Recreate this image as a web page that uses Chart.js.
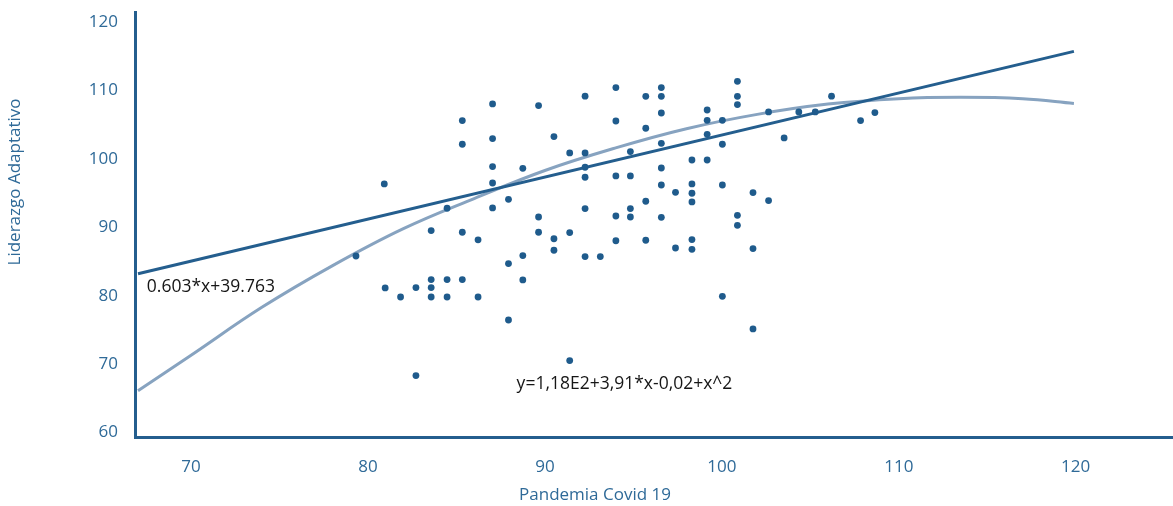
<!DOCTYPE html>
<html>
<head>
<meta charset="utf-8">
<title>Liderazgo Adaptativo vs Pandemia Covid 19</title>
<script src="https://cdn.jsdelivr.net/npm/chart.js@4"></script>
<style>
  html, body { margin: 0; padding: 0; background: #ffffff; }
  #wrap { width: 1173px; height: 506px; position: relative; }
</style>
</head>
<body>
<div id="wrap"><canvas id="scatterChart"></canvas></div>
<script>
// Observed points (Pandemia Covid 19 vs Liderazgo Adaptativo)
const covidX = [
  87.04, 89.64, 85.33, 87.04, 90.51, 85.33, 91.40, 87.04, 88.75, 80.92,
  87.04, 87.94, 87.04, 84.47, 89.64, 83.57, 85.33, 86.22, 89.64, 90.51,
  91.40, 90.51, 79.32, 87.94, 88.75, 83.57, 84.47, 85.33, 80.97, 82.71,
  83.57, 81.84, 83.57, 84.47, 86.22, 88.75, 87.94, 82.71, 91.40, 92.27,
  94.01, 95.70, 96.58, 96.58, 100.88, 100.88, 100.88, 94.01, 95.70, 96.58,
  99.17, 99.17, 100.03, 102.64, 99.17, 96.58, 103.52, 100.03, 92.27, 94.83,
  92.27, 92.27, 94.01, 94.83, 98.31, 99.17, 96.58, 96.58, 97.38, 98.31,
  98.31, 98.31, 100.03, 101.76, 102.64, 92.27, 95.70, 94.83, 94.83, 94.01,
  96.58, 100.88, 100.88, 92.27, 93.13, 94.01, 95.70, 97.38, 98.31, 98.31,
  101.76, 100.03, 101.76, 104.35, 105.28, 106.20, 107.84, 108.65
];
const liderazgoY = [
  108.02, 107.78, 105.59, 102.96, 103.25, 102.13, 100.86, 98.87, 98.62, 96.33,
  96.47, 94.09, 92.82, 92.78, 91.50, 89.52, 89.27, 88.17, 89.27, 88.32,
  89.22, 86.64, 85.80, 84.69, 85.86, 82.36, 82.36, 82.36, 81.13, 81.19,
  81.19, 79.81, 79.81, 79.81, 79.81, 82.30, 76.45, 68.33, 70.52, 109.16,
  110.41, 109.14, 110.41, 109.14, 111.33, 109.14, 107.93, 105.53, 104.47, 106.70,
  107.14, 105.63, 105.63, 106.85, 103.59, 102.27, 103.05, 102.13, 100.86, 101.06,
  98.77, 97.31, 97.50, 97.50, 99.83, 99.83, 98.66, 96.18, 95.11, 96.33,
  94.97, 93.70, 96.18, 95.07, 93.90, 92.73, 93.80, 92.73, 91.50, 91.65,
  91.46, 91.75, 90.29, 85.72, 85.72, 88.03, 88.10, 86.97, 88.20, 86.78,
  86.89, 79.91, 75.14, 106.85, 106.85, 109.16, 105.59, 106.76
];

// Linear trend line, end points as drawn
const linearX = [67.0, 119.9];
const linearY = [83.2, 115.7];

// Quadratic trend curve
const curveX = [67.0, 70, 74, 78, 82, 86, 90, 94, 98, 102, 106, 110, 113.5, 117, 119.9];
const curveY = [66.1, 71.3, 78.3, 84.4, 89.8, 94.2, 98.3, 101.6, 104.4, 106.5, 108.0, 108.8, 109.0, 108.8, 108.1];

// Axis ticks
const xTicks = [70, 80, 90, 100, 110, 120];
const yTicks = [60, 70, 80, 90, 100, 110, 120];

// Equation labels
const linearLabel = '0.603*x+39.763';
const curveLabel = 'y=1,18E2+3,91*x-0,02+x^2';

const BLUE = '#245e8e';
const DOT = '#1f5b8c';
const LIGHT = '#87a3c0';
const TEXT = '#2f6a98';
const FONT = "'Open Sans', sans-serif";

function toPoints(xs, ys) {
  return xs.map((x, i) => ({ x: x, y: ys[i] }));
}

// Draws the equation texts and the axis titles
const labelPlugin = {
  id: 'labelPlugin',
  afterDraw(chart) {
    const ctx = chart.ctx;
    const xs = chart.scales.x;
    const ys = chart.scales.y;
    ctx.save();
    ctx.fillStyle = '#161616';
    ctx.font = '17.5px ' + FONT;
    ctx.textAlign = 'left';
    ctx.textBaseline = 'middle';
    ctx.fillText(linearLabel, xs.getPixelForValue(67.5), ys.getPixelForValue(81.2));
    ctx.fillText(curveLabel, xs.getPixelForValue(88.4), ys.getPixelForValue(67.05));

    // axis titles
    ctx.fillStyle = TEXT;
    ctx.font = '17px ' + FONT;
    ctx.textAlign = 'center';
    ctx.fillText('Pandemia Covid 19', 595, 495);
    ctx.translate(15, 182);
    ctx.rotate(-Math.PI / 2);
    ctx.fillText('Liderazgo Adaptativo', 0, 0);
    ctx.restore();
  }
};

const ctx = document.getElementById('scatterChart').getContext('2d');
new Chart(ctx, {
  type: 'scatter',
  data: {
    datasets: [
      {
        label: 'Datos',
        data: toPoints(covidX, liderazgoY),
        backgroundColor: DOT,
        borderWidth: 0,
        pointRadius: 3.4,
        order: 0
      },
      {
        label: 'Lineal',
        data: toPoints(linearX, linearY),
        showLine: true,
        borderColor: BLUE,
        borderWidth: 3,
        pointRadius: 0,
        order: 1
      },
      {
        label: 'Cuadratica',
        data: toPoints(curveX, curveY),
        showLine: true,
        tension: 0.4,
        borderColor: LIGHT,
        borderWidth: 3,
        pointRadius: 0,
        order: 2
      }
    ]
  },
  options: {
    responsive: true,
    maintainAspectRatio: false,
    animation: false,
    layout: { autoPadding: false, padding: { top: 12, left: 0, right: 0, bottom: 0 } },
    plugins: {
      legend: { display: false },
      tooltip: { enabled: false }
    },
    scales: {
      x: {
        type: 'linear',
        min: 66.83,
        max: 125.5,
        afterBuildTicks: scale => { scale.ticks = xTicks.map(v => ({ value: v })); },
        afterFit: scale => {
          scale.height = 69;
          scale.paddingLeft = 0;
          scale.paddingRight = 0;
        },
        grid: { display: false, drawTicks: false },
        border: { display: true, color: BLUE, width: 3 },
        ticks: { color: TEXT, font: { family: FONT, size: 17 }, padding: 20, maxRotation: 0 }
      },
      y: {
        type: 'linear',
        min: 59.35,
        max: 121.46,
        afterBuildTicks: scale => { scale.ticks = yTicks.map(v => ({ value: v })); },
        afterFit: scale => {
          scale.width = 135;
          scale.paddingTop = 0;
          scale.paddingBottom = 0;
        },
        grid: { display: false, drawTicks: false },
        border: { display: true, color: BLUE, width: 3 },
        ticks: { color: TEXT, font: { family: FONT, size: 17 }, padding: 17 }
      }
    }
  },
  plugins: [labelPlugin]
});
</script>
</body>
</html>
